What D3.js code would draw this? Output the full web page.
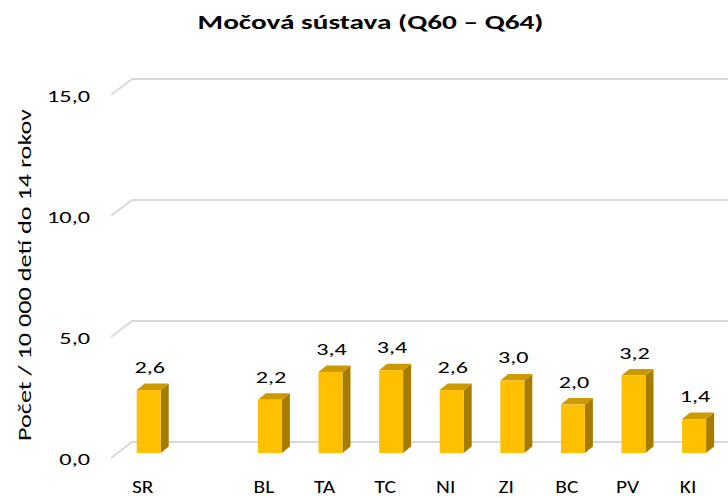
<!DOCTYPE html>
<html><head><meta charset="utf-8">
<script src="https://cdn.jsdelivr.net/npm/d3@7"></script>
<style>
html,body{margin:0;padding:0;background:#fff;}
svg{display:block;font-family:Carlito,Calibri,Lato,"Open Sans",sans-serif;}
</style></head>
<body><svg id="c" width="728" height="497"></svg>
<script>
const categories = ["SR", "", "BL", "TA", "TC", "NI", "ZI", "BC", "PV", "KI"];
const values = [2.6, null, 2.2, 3.35, 3.42, 2.6, 3.0, 2.0, 3.2, 1.4];
const yTicks = [0, 5, 10, 15];
const title = "Močová sústava (Q60 – Q64)";
const yTitle = "Počet / 10 000 detí do 14 rokov";

const svg = d3.select("#c");
const fmt = v => d3.format(".1f")(v).replace(".", ",");

// horizontal stretch factor so a sample string reaches a target width
function stretch(sample, size, weight, target) {
  const t = svg.append("text").attr("font-size", size).attr("font-weight", weight).text(sample);
  const w = t.node().getComputedTextLength();
  t.remove();
  return target / w;
}
function label(parent, x, y, str, size, weight, anchor, sx, rot) {
  return parent.append("text")
    .attr("transform", `translate(${x},${y})${rot ? " rotate(" + rot + ")" : ""} scale(${sx},1)`)
    .attr("text-anchor", anchor).attr("font-size", size).attr("font-weight", weight)
    .attr("fill", "#000").text(str);
}

const sTitle = stretch(title, 21, "bold", 346);
const sYTitle = stretch(yTitle, 19, "normal", 332);
const sTick = stretch("15,0", 16.5, "normal", 43);
const sVal = stretch("2,6", 16.5, "normal", 30.5);
const sCat = stretch("SR", 17.5, "normal", 21.5);

// back-wall value scale
const y = d3.scaleLinear().domain([0, 15]).range([442, 79]);
const x = d3.scaleBand().domain(categories.map((c, i) => i)).range([118.4, 724.4]);
const depthY = 16;
const barW = 24, barDX = 8, barDY = 6.5, barOff = 11;

label(svg, 370.5, 28.5, title, 21, "bold", "middle", sTitle);
label(svg, 31, 275, yTitle, 19, "normal", "middle", sYTitle, -90);

// gridlines + tick labels
const grid = svg.append("g");
yTicks.forEach(t => {
  grid.append("path")
    .attr("d", `M111,${y(t) + depthY}L132,${y(t)}L740,${y(t)}`)
    .attr("fill", "none").attr("stroke", "#d9d9d9").attr("stroke-width", 2);
  label(svg, 90, y(t) + depthY + 6.8, fmt(t), 16.5, "normal", "end", sTick);
});

// bars
const bars = svg.append("g");
values.forEach((v, i) => {
  if (v == null) return;
  const cx = x(i) + x.bandwidth() / 2;
  const x0 = cx - barW / 2, x1 = cx + barW / 2;
  const yb = y(0) + barOff, yt = y(v) + barOff;
  bars.append("path").attr("d", `M${x1},${yb}L${x1},${yt}L${x1 + barDX},${yt - barDY}L${x1 + barDX},${yb - barDY}Z`)
    .attr("fill", "#A67C00");
  bars.append("path").attr("d", `M${x0},${yt}L${x0 + barDX},${yt - barDY}L${x1 + barDX},${yt - barDY}L${x1},${yt}Z`)
    .attr("fill", "#CC9A00");
  bars.append("rect").attr("x", x0).attr("y", yt).attr("width", barW).attr("height", yb - yt)
    .attr("fill", "#FFC000");
  label(svg, cx + 1, yt - 17, fmt(v), 16.5, "normal", "middle", sVal);
});

// category labels
categories.forEach((c, i) => {
  if (!c) return;
  label(svg, x(i) + x.bandwidth() / 2 - 6, 492.5, c, 17.5, "normal", "middle", sCat);
});
</script></body></html>
